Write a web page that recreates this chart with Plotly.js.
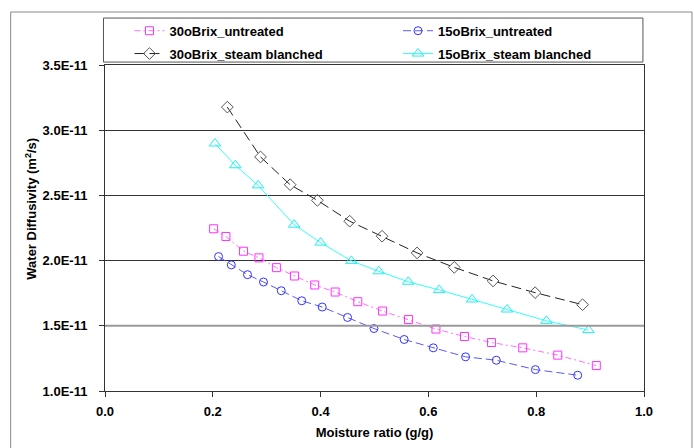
<!DOCTYPE html>
<html>
<head>
<meta charset="utf-8">
<script src="https://cdn.plot.ly/plotly-3.0.1.min.js"></script>
<style>html,body{margin:0;padding:0;background:#fff;}#chart{width:694px;height:448px;}</style>
</head>
<body>
<div id="chart"></div>
<script>
// Series data (x = moisture ratio g/g, y = water diffusivity in units of 1E-11 m2/s)
const names = ["30oBrix_untreated", "15oBrix_untreated", "30oBrix_steam blanched", "15oBrix_steam blanched"];

const x30u = [0.2015,0.2244,0.257,0.2856,0.318,0.3515,0.389,0.427,0.469,0.515,0.563,0.614,0.667,0.717,0.775,0.840,0.9115];
const y30u = [2.244,2.185,2.072,2.021,1.946,1.882,1.813,1.759,1.685,1.613,1.548,1.475,1.418,1.372,1.331,1.275,1.195];

const x15u = [0.2107,0.2343,0.2644,0.294,0.327,0.365,0.403,0.450,0.499,0.555,0.609,0.669,0.726,0.7985,0.877];
const y15u = [2.031,1.967,1.892,1.836,1.769,1.692,1.644,1.564,1.479,1.395,1.331,1.262,1.236,1.164,1.121];

const x30s = [0.227,0.2885,0.3435,0.394,0.454,0.514,0.579,0.648,0.720,0.798,0.886];
const y30s = [3.177,2.795,2.582,2.462,2.302,2.187,2.059,1.948,1.844,1.754,1.662];

const x15s = [0.204,0.2417,0.284,0.351,0.400,0.457,0.508,0.5626,0.620,0.681,0.746,0.819,0.897];
const y15s = [2.898,2.731,2.577,2.275,2.138,1.998,1.918,1.838,1.775,1.702,1.625,1.538,1.467];

const yTickVals = [1.0e-11,1.5e-11,2.0e-11,2.5e-11,3.0e-11,3.5e-11];
const yTickText = ["1.0E-11","1.5E-11","2.0E-11","2.5E-11","3.0E-11","3.5E-11"];
const xTickVals = [0,0.2,0.4,0.6,0.8,1.0];
const xTickText = ["0.0","0.2","0.4","0.6","0.8","1.0"];

const scale = v => v.map(d => d * 1e-11);
const FONT = "Liberation Sans, Arial, sans-serif";
const legFont = {family:FONT, size:13, color:"#000", weight:"bold"};

const traces = [
  {x:x30u, y:scale(y30u), name:names[0], mode:"lines+markers", legend:"legend",
   line:{color:"#ff70ff", width:1, dash:"6px,3px,2px,3px"},
   marker:{symbol:"square-open", size:8, color:"#ff33ff", line:{width:1}}},
  {x:x15u, y:scale(y15u), name:names[1], mode:"lines+markers", legend:"legend2",
   line:{color:"#5a5af0", width:1, dash:"8px,4px"},
   marker:{symbol:"circle-open", size:8, color:"#3333ff", line:{width:1}}},
  {x:x30s, y:scale(y30s), name:names[2], mode:"lines+markers", legend:"legend3",
   line:{color:"#222222", width:1, dash:"10px,5px"},
   marker:{symbol:"diamond-open", size:9, color:"#555555", line:{width:1}}},
  {x:x15s, y:scale(y15s), name:names[3], mode:"lines+markers", legend:"legend4",
   line:{color:"#33ffff", width:1},
   marker:{symbol:"triangle-up-open", size:10, color:"#22eeee", line:{width:1}}}
];

const legBase = {bgcolor:"rgba(0,0,0,0)", borderwidth:0, font:legFont, xanchor:"left", yanchor:"top"};

const layout = {
  width:694, height:448,
  margin:{l:104.5, r:50, t:65, b:57},
  paper_bgcolor:"#ffffff", plot_bgcolor:"#ffffff",
  font:{family:FONT, size:13, color:"#000"},
  showlegend:true,
  legend: Object.assign({x:0.0454, y:1.151}, legBase),
  legend2: Object.assign({x:0.5436, y:1.151}, legBase),
  legend3: Object.assign({x:0.0454, y:1.081}, legBase),
  legend4: Object.assign({x:0.5436, y:1.081}, legBase),
  xaxis:{range:[0,1], tickvals:xTickVals, ticktext:xTickText, ticks:"outside", ticklen:5,
    tickcolor:"#333", showline:true, linecolor:"#333", linewidth:1, mirror:true,
    showgrid:false, zeroline:false, ticklabelstandoff:3,
    tickfont:{family:FONT, size:13, weight:"bold"},
    title:{text:"Moisture ratio (g/g)", font:{family:FONT, size:13, weight:"bold"}, standoff:10}},
  yaxis:{range:[1.0e-11,3.5e-11], tickvals:yTickVals, ticktext:yTickText, ticks:"outside", ticklen:5,
    tickcolor:"#333", showline:true, linecolor:"#333", linewidth:1, mirror:true,
    showgrid:true, gridcolor:"#333", gridwidth:1, zeroline:false, ticklabelstandoff:9,
    tickfont:{family:FONT, size:13, weight:"bold"}},
  annotations:[
    {text:"Water Diffusivity (m<sup>2</sup>/s)", xref:"paper", yref:"paper",
     x:-0.138, y:0.558, xanchor:"center", yanchor:"middle", textangle:-90, showarrow:false,
     font:{family:FONT, size:13, weight:"bold", color:"#000"}}
  ],
  shapes:[
    {type:"line", xref:"paper", yref:"y", x0:0, x1:1, y0:1.5e-11, y1:1.5e-11,
     line:{color:"#9a9a9a", width:2}, layer:"above"},
    {type:"rect", xref:"paper", yref:"paper", x0:-0.0028, x1:0.998, y0:1.009, y1:1.144,
     line:{color:"#555", width:1}, fillcolor:"rgba(0,0,0,0)"},
    {type:"rect", xref:"paper", yref:"paper", x0:-0.175, x1:1.089, y0:-0.5, y1:1.1626,
     line:{color:"#888", width:1}, fillcolor:"rgba(0,0,0,0)", layer:"below"}
  ]
};

Plotly.newPlot("chart", traces, layout, {displayModeBar:false, staticPlot:true});
</script>
</body>
</html>
